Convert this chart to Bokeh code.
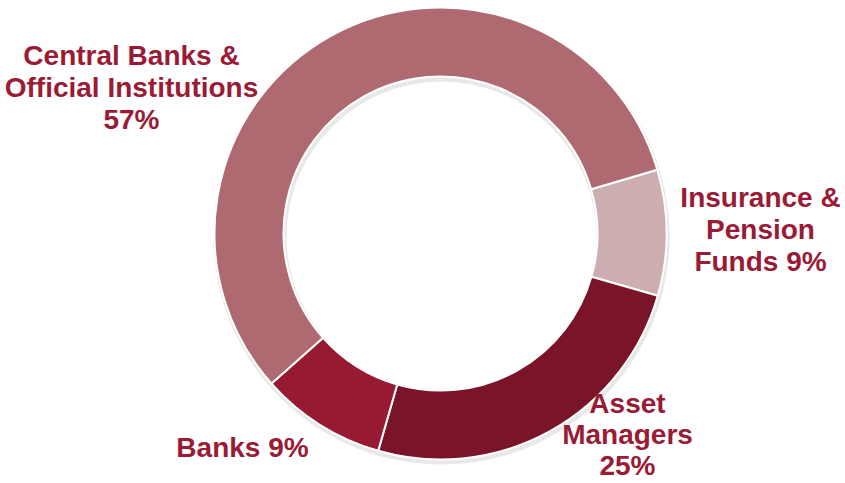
import math
from bokeh.plotting import figure
from bokeh.models import Range1d, ColumnDataSource
from bokeh.core.properties import value
from bokeh.embed import file_html
from bokeh.resources import INLINE

# ---- data ----
categories = ["Insurance & Pension Funds", "Asset Managers", "Banks",
              "Central Banks & Official Institutions"]
shares = [9, 25, 9, 57]
colors = ["#CDAEB0", "#7A1428", "#961A32", "#AE6A70"]

# label lines (text) and layout anchors (first line, page px)
label_lines = [
    ["Insurance &", "Pension", "Funds 9%"],
    ["Asset", "Managers", "25%"],
    ["Banks 9%"],
    ["Central Banks &", "Official Institutions", "57%"],
]
label_anchor_x = [760, 627, 242, 131]
label_anchor_y = [197, 403, 447, 55]
line_gap = 32

W, H = 845, 483

def py(Y):
    return H - Y

cx, cy = 440, py(233)
r_out, r_in = 226, 157
start_deg = 16.4  # boundary between Central Banks and Insurance

total = float(sum(shares))
starts, ends = [], []
cum = 0.0
for s in shares:
    a_hi = math.radians(start_deg - cum / total * 360.0)
    cum += s
    a_lo = math.radians(start_deg - cum / total * 360.0)
    starts.append(a_lo)
    ends.append(a_hi)

src = ColumnDataSource(dict(cat=categories, share=shares, color=colors,
                            start=starts, end=ends,
                            x=[cx] * len(shares), y=[cy] * len(shares)))

p = figure(width=W, height=H, x_range=Range1d(0, W), y_range=Range1d(0, H),
           output_backend="svg", toolbar_location=None, min_border=0,
           outline_line_color=None)
p.axis.visible = False
p.grid.visible = False
p.background_fill_color = "white"

# soft shadow
p.annulus(x=[cx + 1], y=[cy - 3], inner_radius=r_in - 2, outer_radius=r_out + 2,
          fill_color="#BDBDBD", fill_alpha=0.35, line_color=None)

p.annular_wedge(x="x", y="y", inner_radius=r_in, outer_radius=r_out,
                start_angle="start", end_angle="end", direction="anticlock",
                fill_color="color", line_color="white", line_width=2, source=src)

# labels
tx, ty, tt = [], [], []
for lines, ax, ay in zip(label_lines, label_anchor_x, label_anchor_y):
    for i, ln in enumerate(lines):
        tx.append(ax)
        ty.append(py(ay + i * (line_gap - (1 if ax == 627 else 0))))
        tt.append(ln)
p.text(x=tx, y=ty, text=tt, text_align="center", text_baseline="alphabetic",
       text_font=value("Liberation Sans"), text_font_style="bold",
       text_font_size="28px", text_color="#9A1B36")

open("out.html", "w").write(file_html(p, INLINE))
